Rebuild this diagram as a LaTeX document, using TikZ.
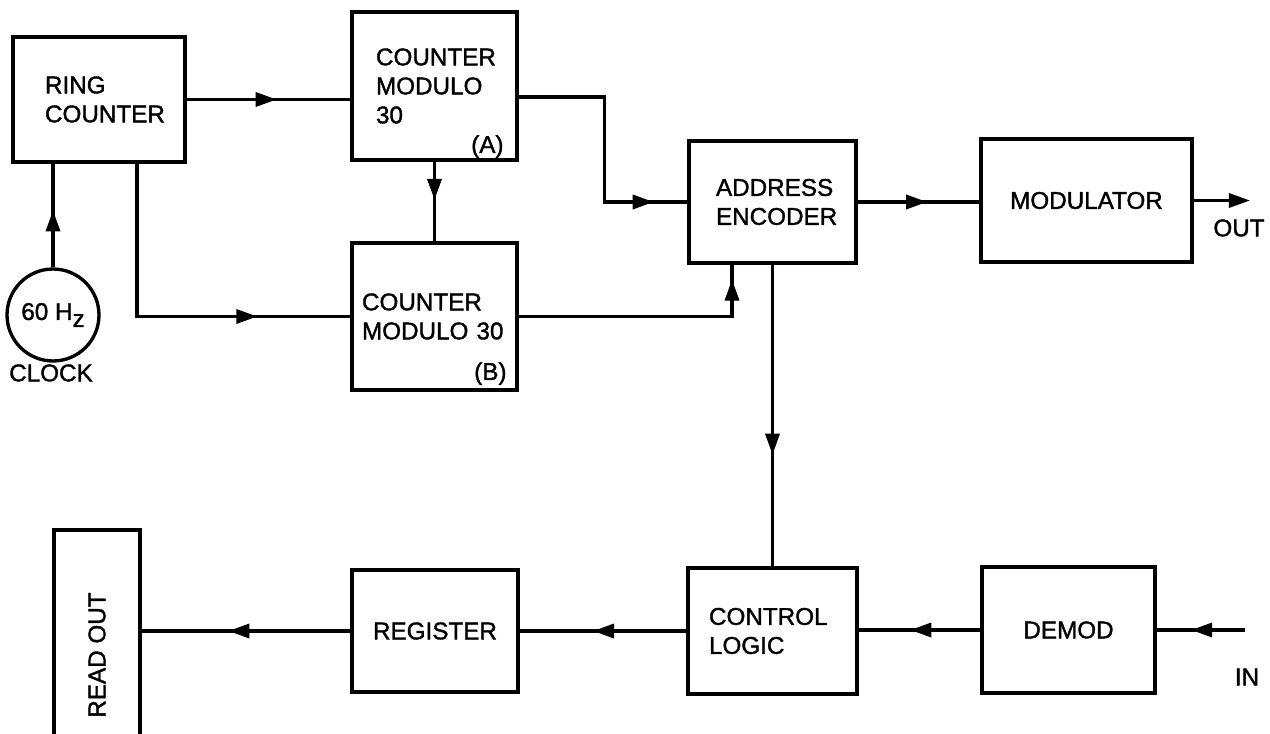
\documentclass[tikz,border=0pt]{standalone}
\usepackage{fontspec}
\newfontfamily\diagfont{Liberation Sans}[FakeBold=1.4]
\usetikzlibrary{arrows.meta,decorations.markings,calc}
\tikzset{
  blk/.style={draw, line width=1.9pt, font=\diagfont\fontsize{13.8}{16.5}\selectfont, inner sep=1pt},
  lbl/.style={font=\diagfont\fontsize{13.8}{16.5}\selectfont, inner sep=1pt},
  wire/.style={line width=1.9pt},
  tri/.tip={Triangle[length=12pt,width=8pt]},
  arrowat/.style={postaction={decorate}, decoration={markings, mark=at position #1 with {\arrow{tri}}}},
}
\begin{document}
\begin{tikzpicture}[x=0.02cm,y=-0.02cm]
\useasboundingbox (0,0) rectangle (1270,733);
\fill[white] (0,0) rectangle (1270,733);
\clip (0,0) rectangle (1270,733);

% boxes
\node[blk, minimum width=3.44cm, minimum height=2.5cm, text width=2.16cm, align=left] (ring) at (99,99.5) {RING\\COUNTER};
\node[blk, minimum width=3.3cm, minimum height=2.96cm, text width=2.34cm, align=left] (ca) at (434.5,86) {COUNTER\\MODULO\\30};
\node[blk, minimum width=3.3cm, minimum height=2.94cm, text width=2.9cm, align=left] (cb) at (434.5,316.5) {COUNTER\\MODULO 30};
\node[blk, minimum width=3.34cm, minimum height=2.44cm, text width=2.26cm, align=left] (enc) at (772.5,202) {ADDRESS\\ENCODER};
\node[blk, minimum width=4.22cm, minimum height=2.46cm] (mod) at (1086.5,200.5) {MODULATOR};
\node[blk, minimum width=3.38cm, minimum height=2.52cm, text width=2.54cm, align=left] (ctrl) at (772.5,631) {CONTROL\\LOGIC};
\node[blk, minimum width=3.46cm, minimum height=2.52cm] (demod) at (1068.5,630) {DEMOD};
\node[blk, minimum width=3.32cm, minimum height=2.44cm] (reg) at (435,631) {REGISTER};
\node[blk, rotate=90, minimum width=5.0cm, minimum height=1.72cm] (ro) at (97,655) {READ OUT};
\node[blk, circle, minimum size=1.84cm, inner sep=0pt] (clk) at (53,315) {60 H\raisebox{-0.55ex}{z}};

% labels
\node[lbl, anchor=east] (la) at ([xshift=-0.26cm,yshift=0.3cm]ca.south east) {(A)};
\node[lbl, anchor=east] (lb) at ([xshift=-0.2cm,yshift=0.36cm]cb.south east) {(B)};
\node[lbl] (clklbl) at (51,373) {CLOCK};
\node[lbl] (outlbl) at (1239,228) {OUT};
\node[lbl] (inlbl) at (1247,677) {IN};
\coordinate (outend) at (1250,200.5);
\coordinate (inend) at (1245,630);

% connectors
\draw[wire, arrowat=0.55] (clk.north) -- (clk.north |- ring.south);
\draw[wire, arrowat=0.55] (ring.east) -- (ring.east -| ca.west);
\draw[wire, arrowat=0.746] ([xshift=0.76cm]ring.south) |- (cb.west);
\draw[wire, arrowat=0.48] (ca.south) -- (cb.north);
\draw[wire, arrowat=0.877] ([yshift=-0.22cm]ca.east) -- ++(1.72cm,0) |- (enc.west);
\draw[wire, arrowat=0.944] (cb.east) -| ([xshift=-0.81cm]enc.south);
\draw[wire, arrowat=0.571] (enc.east) -- (enc.east -| mod.west);
\draw[wire, -{tri}] (mod.east) -- (outend);
\draw[wire, arrowat=0.63] (enc.south) -- (ctrl.north);
\draw[wire, arrowat=0.61] (inend) -- (inend -| demod.east);
\draw[wire, arrowat=0.576] (demod.west) -- (demod.west -| ctrl.east);
\draw[wire, arrowat=0.56] (ctrl.west) -- (ctrl.west -| reg.east);
\draw[wire, arrowat=0.585] (reg.west) -- (reg.west -| ro.south);
\end{tikzpicture}
\end{document}
